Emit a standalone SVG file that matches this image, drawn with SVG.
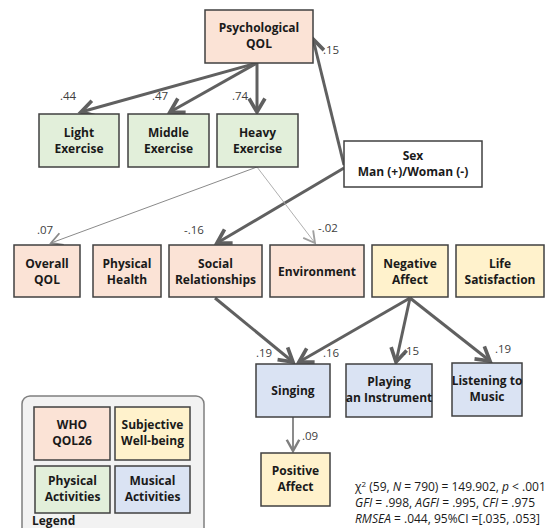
<svg xmlns="http://www.w3.org/2000/svg" width="546" height="528" viewBox="0 0 546 528">
<style>
.box{stroke:#404040;stroke-width:1.5}
.who{fill:#fbe3d6}
.swb{fill:#fff2cc}
.phy{fill:#e2efda}
.mus{fill:#dae3f3}
.wht{fill:#ffffff}
.t{font-family:"Open Sans","Noto Sans",sans-serif;font-weight:bold;font-size:12px;fill:#1a1a1a;text-anchor:middle}
.n{font-family:"Open Sans","Noto Sans",sans-serif;font-size:11.5px;fill:#404040}
.s{font-family:"Open Sans","Noto Sans",sans-serif;font-size:12px;fill:#1a1a1a}
.thick{stroke:#606060;stroke-width:3;fill:none;marker-end:url(#ah)}
.thin{stroke:#8a8a8a;stroke-width:1;fill:none;marker-end:url(#ahs)}
.thin2{stroke:#b0b0b0;stroke-width:1;fill:none;marker-end:url(#ahs2)}
.mid{stroke:#7f7f7f;stroke-width:1.8;fill:none;marker-end:url(#ahm)}
</style>
<defs>
<marker id="ah" markerUnits="userSpaceOnUse" markerWidth="22" markerHeight="22" viewBox="-13 -9 15 18" refX="0" refY="0" orient="auto">
<path d="M-11,-6.5 L0,0 L-11,6.5" fill="none" stroke="#606060" stroke-width="3"/>
</marker>
<marker id="ahs" markerUnits="userSpaceOnUse" markerWidth="20" markerHeight="20" viewBox="-12 -8 14 16" refX="0" refY="0" orient="auto">
<path d="M-9,-5 L0,0 L-9,5" fill="none" stroke="#8a8a8a" stroke-width="1.5"/>
</marker>
<marker id="ahs2" markerUnits="userSpaceOnUse" markerWidth="20" markerHeight="20" viewBox="-12 -8 14 16" refX="0" refY="0" orient="auto">
<path d="M-9,-5 L0,0 L-9,5" fill="none" stroke="#a0a0a0" stroke-width="1.5"/>
</marker>
<marker id="ahm" markerUnits="userSpaceOnUse" markerWidth="20" markerHeight="20" viewBox="-12 -8 14 16" refX="0" refY="0" orient="auto">
<path d="M-9,-5 L0,0 L-9,5" fill="none" stroke="#7f7f7f" stroke-width="2"/>
</marker>
</defs>
<rect width="546" height="528" fill="#ffffff"/>

<g id="legend">
<rect x="22" y="396" width="182" height="140" rx="8" fill="#f2f2f2" stroke="#7f7f7f" stroke-width="1.5"/>
<rect class="box who" x="34" y="407" width="76" height="53"/>
<text class="t" x="72" y="429">WHO</text><text class="t" x="72" y="445">QOL26</text>
<rect class="box swb" x="115" y="407" width="75" height="53"/>
<text class="t" x="152.5" y="429">Subjective</text><text class="t" x="152.5" y="445">Well-being</text>
<rect class="box phy" x="35" y="466" width="75" height="47"/>
<text class="t" x="72.5" y="485">Physical</text><text class="t" x="72.5" y="501">Activities</text>
<rect class="box mus" x="115" y="466" width="75" height="47"/>
<text class="t" x="152.5" y="485">Musical</text><text class="t" x="152.5" y="501">Activities</text>
<text class="t" x="32" y="525" style="text-anchor:start">Legend</text>
</g>

<g id="connectors">
<line class="thick" x1="257" y1="63" x2="81" y2="112"/>
<line class="thick" x1="257" y1="63" x2="170" y2="112"/>
<line class="thick" x1="257" y1="63" x2="257" y2="112"/>
<line class="thick" x1="344" y1="165" x2="313" y2="39"/>
<line class="thick" x1="344" y1="168" x2="217" y2="243"/>
<line class="thin" x1="257" y1="167" x2="51" y2="243"/>
<line class="thin2" x1="257" y1="167" x2="315" y2="243"/>
<line class="thick" x1="215" y1="298" x2="293" y2="362"/>
<line class="thick" x1="410" y1="298" x2="299" y2="362"/>
<line class="thick" x1="410" y1="298" x2="396" y2="362"/>
<line class="thick" x1="410" y1="298" x2="490" y2="361"/>
<line class="mid" x1="293" y1="417" x2="293" y2="451"/>
</g>

<g id="labels">
<text class="n" x="60" y="100">.44</text>
<text class="n" x="152" y="100">.47</text>
<text class="n" x="232" y="100">.74</text>
<text class="n" x="323" y="54">.15</text>
<text class="n" x="37" y="234">.07</text>
<text class="n" x="184" y="234">-.16</text>
<text class="n" x="318" y="232">-.02</text>
<text class="n" x="256" y="357">.19</text>
<text class="n" x="323" y="357">.16</text>
<text class="n" x="403" y="355">.15</text>
<text class="n" x="495" y="353">.19</text>
<text class="n" x="302" y="440">.09</text>
</g>

<g id="psych_qol"><rect class="box who" x="205" y="10" width="108" height="53"/>
<text class="t" x="259" y="32">Psychological</text><text class="t" x="259" y="48">QOL</text></g>
<g id="light"><rect class="box phy" x="39" y="114" width="80" height="53"/>
<text class="t" x="79" y="137">Light</text><text class="t" x="79" y="153">Exercise</text></g>
<g id="middle"><rect class="box phy" x="128" y="114" width="81" height="53"/>
<text class="t" x="168.5" y="137">Middle</text><text class="t" x="168.5" y="153">Exercise</text></g>
<g id="heavy"><rect class="box phy" x="217" y="114" width="81" height="53"/>
<text class="t" x="257.5" y="137">Heavy</text><text class="t" x="257.5" y="153">Exercise</text></g>
<g id="sex"><rect class="box wht" x="344" y="141" width="138" height="46"/>
<text class="t" x="413" y="160">Sex</text><text class="t" x="413" y="176">Man (+)/Woman (-)</text></g>

<g id="overall"><rect class="box who" x="14" y="245" width="66" height="52"/>
<text class="t" x="47" y="268">Overall</text><text class="t" x="47" y="284">QOL</text></g>
<g id="physical_health"><rect class="box who" x="93" y="245" width="68" height="52"/>
<text class="t" x="127" y="268">Physical</text><text class="t" x="127" y="284">Health</text></g>
<g id="social"><rect class="box who" x="169" y="245" width="93" height="52"/>
<text class="t" x="215.5" y="268">Social</text><text class="t" x="215.5" y="284">Relationships</text></g>
<g id="environment"><rect class="box who" x="270" y="245" width="94" height="52"/>
<text class="t" x="317" y="276">Environment</text></g>
<g id="negative"><rect class="box swb" x="372" y="245" width="76" height="52"/>
<text class="t" x="410" y="268">Negative</text><text class="t" x="410" y="284">Affect</text></g>
<g id="life"><rect class="box swb" x="456" y="245" width="88" height="52"/>
<text class="t" x="500" y="268">Life</text><text class="t" x="500" y="284">Satisfaction</text></g>

<g id="singing"><rect class="box mus" x="256" y="364" width="74" height="53"/>
<text class="t" x="293" y="395">Singing</text></g>
<g id="playing"><rect class="box mus" x="346" y="364" width="86" height="53"/>
<text class="t" x="389" y="386">Playing</text><text class="t" x="389" y="402">an Instrument</text></g>
<g id="listening"><rect class="box mus" x="452" y="363" width="70" height="53"/>
<text class="t" x="487" y="385">Listening to</text><text class="t" x="487" y="401">Music</text></g>
<g id="positive"><rect class="box swb" x="261" y="453" width="69" height="53"/>
<text class="t" x="295.5" y="475">Positive</text><text class="t" x="295.5" y="491">Affect</text></g>

<g id="stats">
<text class="s" x="355" y="491">χ<tspan dy="-4" font-size="8">2</tspan><tspan dy="4"> (59, </tspan><tspan font-style="italic">N</tspan> = 790) = 149.902, <tspan font-style="italic">p</tspan> &lt; .001</text>
<text class="s" x="355" y="507"><tspan font-style="italic">GFI</tspan> = .998, <tspan font-style="italic">AGFI</tspan> = .995, <tspan font-style="italic">CFI</tspan> = .975</text>
<text class="s" x="355" y="523"><tspan font-style="italic">RMSEA</tspan> = .044, 95%CI =[.035, .053]</text>
</g>
</svg>
